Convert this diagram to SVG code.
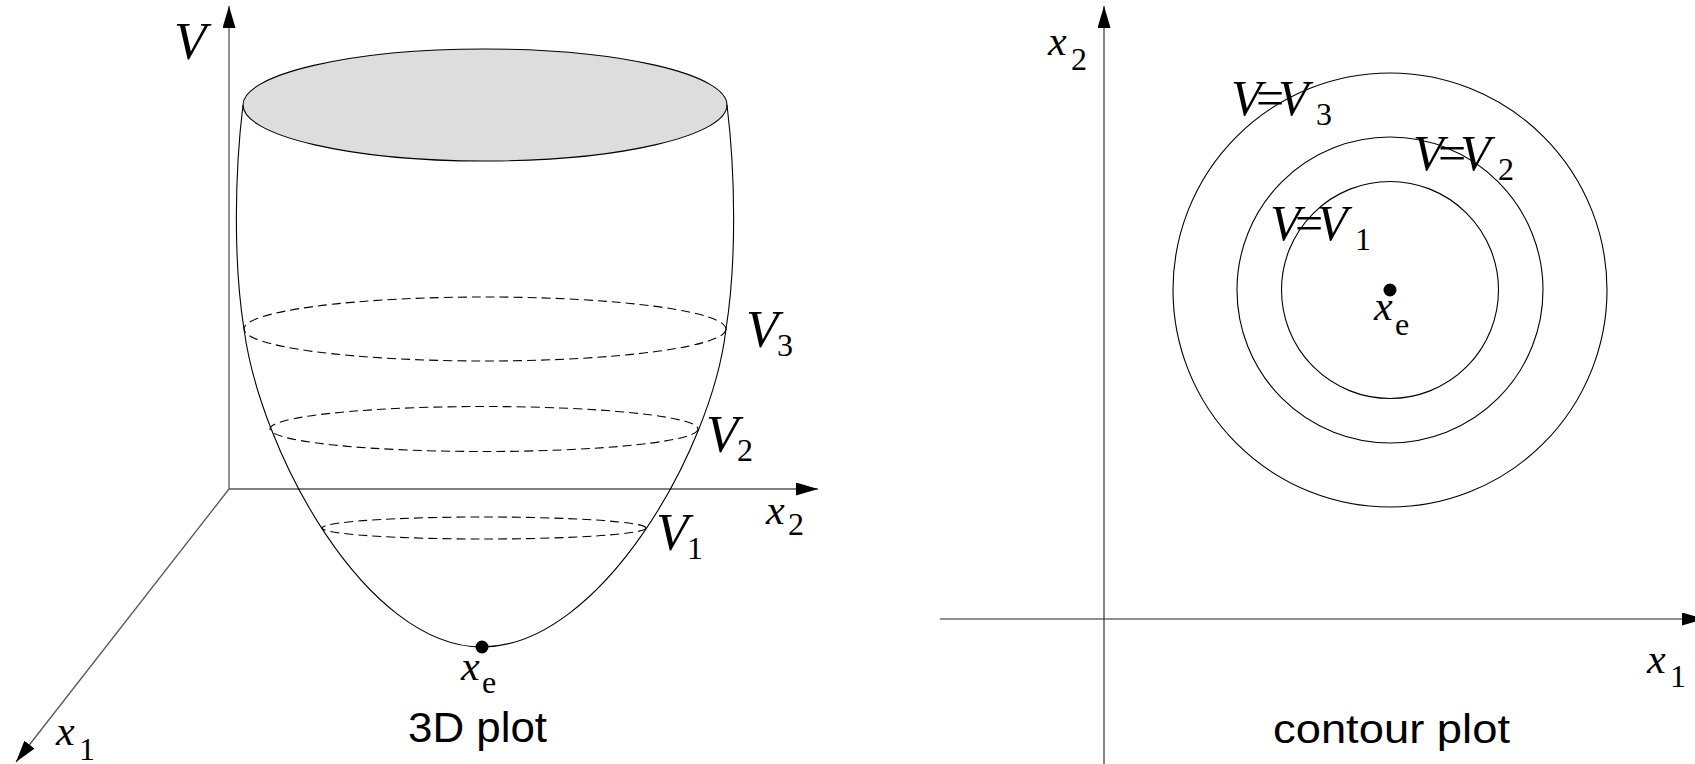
<svg xmlns="http://www.w3.org/2000/svg" width="1695" height="764" viewBox="0 0 1695 764">
<style>
.ax{stroke:#555;stroke-width:1.3;fill:none}
.ax2{stroke:#222;stroke-width:1.1;fill:none}
.ln{stroke:#000;stroke-width:1.1;fill:none}
.ds{stroke:#000;stroke-width:1.1;fill:none;stroke-dasharray:9 5}
</style>
<defs>
<marker id="ah" viewBox="0 0 22 13" refX="22" refY="6.5" markerWidth="22" markerHeight="13" markerUnits="userSpaceOnUse" orient="auto">
<path d="M0,0 L22,6.5 L0,13 z" fill="#000"/>
</marker>
</defs>
<rect width="1695" height="764" fill="#fff"/>
<g id="connectors">
<line class="ax" x1="229" y1="489" x2="229" y2="6" marker-end="url(#ah)"/>
<line class="ax" x1="229" y1="489" x2="818" y2="489" marker-end="url(#ah)"/>
<line class="ax" x1="229" y1="489" x2="16" y2="762" marker-end="url(#ah)"/>
<line class="ax2" x1="1104" y1="764" x2="1104" y2="6" marker-end="url(#ah)"/>
<line class="ax2" x1="940" y1="619" x2="1704" y2="619" marker-end="url(#ah)"/>
</g>
<g id="bowl">
<ellipse cx="485" cy="105" rx="242" ry="56" fill="#dddddd" stroke="#000" stroke-width="1.1"/>
<path class="ln" d="M243,105 C235,170 233,260 244,329 C260,450 365,647 482,647"/>
<path class="ln" d="M727,105 C735,170 737,260 726,329 C712,450 600,647 482,647"/>
<ellipse class="ds" cx="485" cy="329" rx="241" ry="32"/>
<ellipse class="ds" cx="484" cy="429" rx="214" ry="22.5"/>
<ellipse class="ds" cx="484" cy="528" rx="162" ry="11"/>
<circle cx="482" cy="647" r="6.5" fill="#000"/>
</g>
<g id="labels-3d" font-family="Liberation Serif, Times New Roman, serif" font-style="italic" fill="#000">
<text x="174" y="59" font-size="53">V</text>
<text x="746" y="347" font-size="53">V<tspan font-style="normal" font-size="32" x="777" y="356">3</tspan></text>
<text x="706" y="452" font-size="53">V<tspan font-style="normal" font-size="32" x="737" y="461">2</tspan></text>
<text x="656" y="550" font-size="53">V<tspan font-style="normal" font-size="32" x="687" y="559">1</tspan></text>
<text x="766" y="524" font-size="42">x<tspan font-style="normal" font-size="32" x="788" y="535">2</tspan></text>
<text x="56" y="745" font-size="42">x<tspan font-style="normal" font-size="32" x="79" y="760">1</tspan></text>
<text x="461" y="680" font-size="42">x<tspan font-style="normal" font-size="32" x="482" y="693">e</tspan></text>
<text x="408" y="742" font-size="42" font-style="normal" font-family="Liberation Sans, Arial, sans-serif" textLength="139" lengthAdjust="spacingAndGlyphs">3D plot</text>
</g>
<g id="contours">
<circle class="ln" cx="1390" cy="290" r="217"/>
<circle class="ln" cx="1390" cy="290" r="153"/>
<circle class="ln" cx="1390" cy="290" r="108.5"/>
<circle cx="1390" cy="290" r="6.5" fill="#000"/>
</g>
<g id="labels-contour" font-family="Liberation Serif, Times New Roman, serif" font-style="italic" fill="#000">
<text x="1048" y="55" font-size="42">x<tspan font-style="normal" font-size="32" x="1071" y="70">2</tspan></text>
<text x="1647" y="673" font-size="42">x<tspan font-style="normal" font-size="32" x="1670" y="687">1</tspan></text>
<text x="1374" y="320" font-size="42">x<tspan font-style="normal" font-size="32" x="1395" y="335">e</tspan></text>
<text font-size="50"><tspan x="1231" y="115">V</tspan><tspan font-style="normal" x="1256" y="115">=</tspan><tspan x="1278" y="115">V</tspan><tspan font-style="normal" font-size="32" x="1316" y="125">3</tspan></text>
<text font-size="50"><tspan x="1413" y="170">V</tspan><tspan font-style="normal" x="1438" y="170">=</tspan><tspan x="1460" y="170">V</tspan><tspan font-style="normal" font-size="32" x="1498" y="180">2</tspan></text>
<text font-size="50"><tspan x="1270" y="240">V</tspan><tspan font-style="normal" x="1295" y="240">=</tspan><tspan x="1317" y="240">V</tspan><tspan font-style="normal" font-size="32" x="1355" y="250">1</tspan></text>
<text x="1273" y="743" font-size="40" font-style="normal" font-family="Liberation Sans, Arial, sans-serif" textLength="237" lengthAdjust="spacingAndGlyphs">contour plot</text>
</g>
</svg>
